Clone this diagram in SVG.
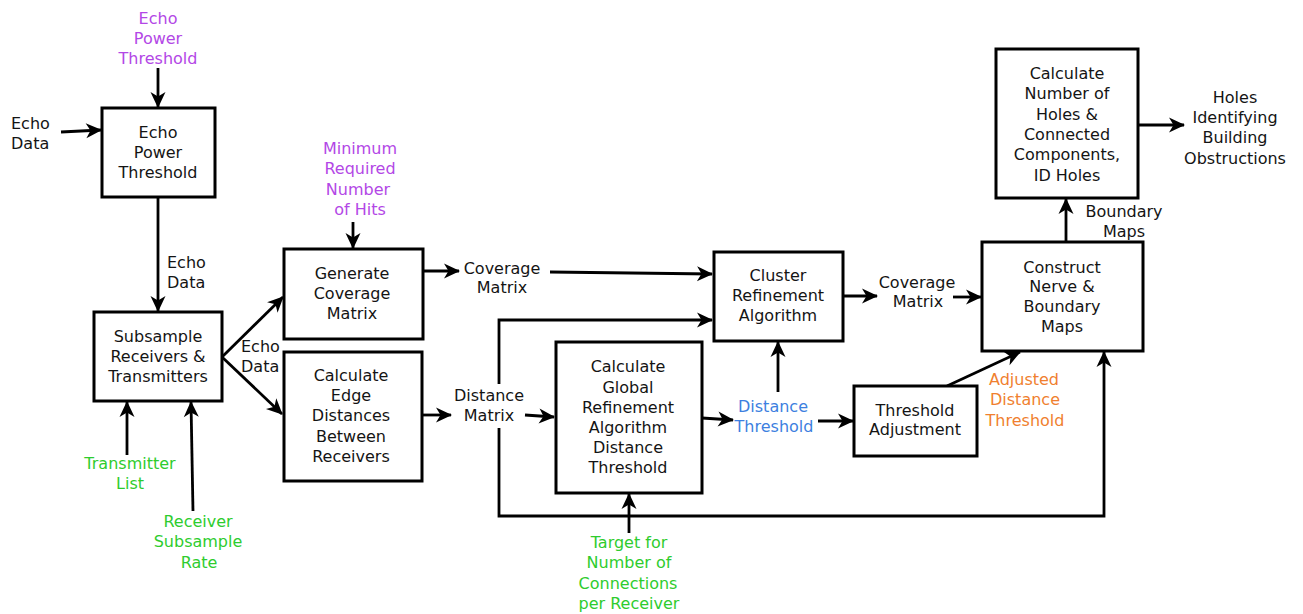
<svg xmlns="http://www.w3.org/2000/svg" width="1303" height="614" viewBox="0 0 1303 614">
<style>
text{font-family:"DejaVu Sans",sans-serif;font-size:16px;fill:#141414}
.m{text-anchor:middle}
.box{fill:#fff;stroke:#000;stroke-width:3}
.ln{fill:none;stroke:#000;stroke-width:2.8}
.purple{fill:#b347e6}
.green{fill:#2ecc2e}
.blue{fill:#3d7fe0}
.orange{fill:#f07f2f}
</style>
<defs>
<marker id="ah" viewBox="-17 -9 19 18" refX="0" refY="0" markerWidth="19" markerHeight="18" markerUnits="userSpaceOnUse" orient="auto">
<path d="M1,0 L-15,-7.5 L-10.5,0 L-15,7.5 Z" fill="#000"/>
</marker>
</defs>
<rect width="1303" height="614" fill="#fff"/>

<g id="connectors">
<path class="ln" marker-end="url(#ah)" d="M61,132 L101,130"/>
<path class="ln" marker-end="url(#ah)" d="M158,68 L158,107"/>
<path class="ln" marker-end="url(#ah)" d="M158,197 L158,311"/>
<path class="ln" marker-end="url(#ah)" d="M222,357 L283,297"/>
<path class="ln" marker-end="url(#ah)" d="M222,357 L282,414"/>
<path class="ln" marker-end="url(#ah)" d="M127,455 L127,402"/>
<path class="ln" marker-end="url(#ah)" d="M193,511 L191,402"/>
<path class="ln" marker-end="url(#ah)" d="M353,222 L353,248"/>
<path class="ln" marker-end="url(#ah)" d="M423,271 L459,271"/>
<path class="ln" marker-end="url(#ah)" d="M550,272 L712,274"/>
<path class="ln" marker-end="url(#ah)" d="M422,415 L451,415"/>
<path class="ln" marker-end="url(#ah)" d="M525,415 L554,417"/>
<path class="ln" marker-end="url(#ah)" d="M499,384 L499,320 L712,320"/>
<path class="ln" marker-end="url(#ah)" d="M499,428 L499,516 L1104,516 L1104,352"/>
<path class="ln" marker-end="url(#ah)" d="M629,533 L629,494"/>
<path class="ln" marker-end="url(#ah)" d="M702,418 L733,420"/>
<path class="ln" marker-end="url(#ah)" d="M778,392 L778,342"/>
<path class="ln" marker-end="url(#ah)" d="M818,421 L853,421"/>
<path class="ln" marker-end="url(#ah)" d="M843,296 L877,296"/>
<path class="ln" marker-end="url(#ah)" d="M953,297 L981,297"/>
<path class="ln" marker-end="url(#ah)" d="M947,386 L1020,352"/>
<path class="ln" marker-end="url(#ah)" d="M1066,242 L1066,199"/>
<path class="ln" marker-end="url(#ah)" d="M1138,125 L1184,125"/>
</g>

<g id="labels">
<text class="purple m" x="158" y="24">Echo</text>
<text class="purple m" x="158" y="44">Power</text>
<text class="purple m" x="158" y="64">Threshold</text>
<text x="11" y="129">Echo</text>
<text x="11" y="149">Data</text>
<text x="167" y="268">Echo</text>
<text x="167" y="288">Data</text>
<text x="241" y="352">Echo</text>
<text x="241" y="372">Data</text>
<text class="green m" x="130" y="469">Transmitter</text>
<text class="green m" x="130" y="489">List</text>
<text class="green m" x="198" y="527">Receiver</text>
<text class="green m" x="198" y="547">Subsample</text>
<text class="green m" x="199" y="568">Rate</text>
<text class="purple m" x="360" y="154">Minimum</text>
<text class="purple m" x="360" y="174">Required</text>
<text class="purple m" x="358" y="195">Number</text>
<text class="purple m" x="360" y="215">of Hits</text>
<text class="m" x="502" y="274">Coverage</text>
<text class="m" x="502" y="293">Matrix</text>
<text class="m" x="489" y="401">Distance</text>
<text class="m" x="489" y="421">Matrix</text>
<text class="green m" x="629" y="548">Target for</text>
<text class="green m" x="629" y="568">Number of</text>
<text class="green m" x="628" y="589">Connections</text>
<text class="green m" x="629" y="609">per Receiver</text>
<text class="blue m" x="773" y="412">Distance</text>
<text class="blue m" x="774" y="432">Threshold</text>
<text class="m" x="917" y="288">Coverage</text>
<text class="m" x="918" y="307">Matrix</text>
<text class="orange m" x="1024" y="385">Adjusted</text>
<text class="orange m" x="1025" y="405">Distance</text>
<text class="orange m" x="1025" y="426">Threshold</text>
<text class="m" x="1124" y="217">Boundary</text>
<text class="m" x="1124" y="237">Maps</text>
<text class="m" x="1235" y="103">Holes</text>
<text class="m" x="1235" y="123">Identifying</text>
<text class="m" x="1235" y="143">Building</text>
<text class="m" x="1235" y="164">Obstructions</text>
</g>

<g id="node-echo-power-threshold">
<rect class="box" x="102" y="108" width="113" height="89"/>
<text class="m" x="158" y="138">Echo</text>
<text class="m" x="158" y="158">Power</text>
<text class="m" x="158" y="178">Threshold</text>
</g>

<g id="node-subsample">
<rect class="box" x="94" y="312" width="128" height="89"/>
<text class="m" x="158" y="342">Subsample</text>
<text class="m" x="158" y="362">Receivers &amp;</text>
<text class="m" x="158" y="382">Transmitters</text>
</g>

<g id="node-generate-coverage">
<rect class="box" x="284" y="249" width="139" height="90"/>
<text class="m" x="352" y="279">Generate</text>
<text class="m" x="352" y="299">Coverage</text>
<text class="m" x="352" y="319">Matrix</text>
</g>

<g id="node-edge-distances">
<rect class="box" x="284" y="352" width="138" height="129"/>
<text class="m" x="351" y="381">Calculate</text>
<text class="m" x="351" y="401">Edge</text>
<text class="m" x="351" y="421">Distances</text>
<text class="m" x="351" y="442">Between</text>
<text class="m" x="351" y="462">Receivers</text>
</g>

<g id="node-global-threshold">
<rect class="box" x="556" y="342" width="146" height="151"/>
<text class="m" x="628" y="372">Calculate</text>
<text class="m" x="628" y="393">Global</text>
<text class="m" x="628" y="413">Refinement</text>
<text class="m" x="628" y="433">Algorithm</text>
<text class="m" x="628" y="453">Distance</text>
<text class="m" x="628" y="473">Threshold</text>
</g>

<g id="node-cluster-refinement">
<rect class="box" x="714" y="252" width="129" height="89"/>
<text class="m" x="778" y="281">Cluster</text>
<text class="m" x="778" y="301">Refinement</text>
<text class="m" x="778" y="321">Algorithm</text>
</g>

<g id="node-threshold-adjustment">
<rect class="box" x="854" y="386" width="123" height="70"/>
<text class="m" x="915" y="416">Threshold</text>
<text class="m" x="915" y="435">Adjustment</text>
</g>

<g id="node-construct-nerve">
<rect class="box" x="982" y="242" width="161" height="109"/>
<text class="m" x="1062" y="273">Construct</text>
<text class="m" x="1062" y="292">Nerve &amp;</text>
<text class="m" x="1062" y="312">Boundary</text>
<text class="m" x="1062" y="332">Maps</text>
</g>

<g id="node-calculate-holes">
<rect class="box" x="996" y="49" width="142" height="149"/>
<text class="m" x="1067" y="79">Calculate</text>
<text class="m" x="1067" y="99">Number of</text>
<text class="m" x="1067" y="120">Holes &amp;</text>
<text class="m" x="1067" y="140">Connected</text>
<text class="m" x="1067" y="160">Components,</text>
<text class="m" x="1067" y="181">ID Holes</text>
</g>
</svg>
